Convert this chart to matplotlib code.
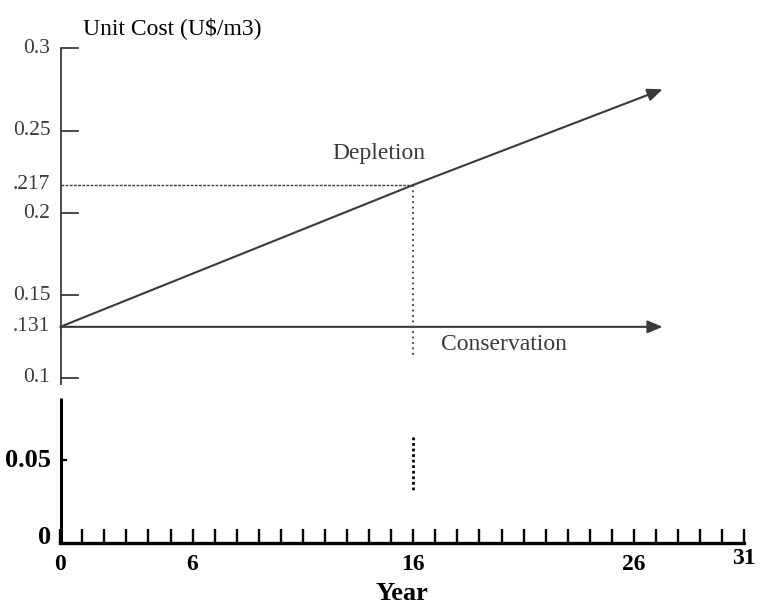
import matplotlib.pyplot as plt

# values
years = [0, 16, 27.3]
depletion = [0.131, 0.217, 0.275]
conservation = [0.131, 0.131, 0.131]
crossover_year = 16
crossover_cost = 0.217
guide_lower = [0.064, 0.032]

xtick_pos = list(range(0, 32))
xtick_labels = ["0", "6", "16", "26", "31"]
ytick_upper = [0.1, 0.131, 0.15, 0.2, 0.217, 0.25, 0.3]
ytick_upper_labels = ["0.1", ".131", "0.15", "0.2", ".217", "0.25", "0.3"]
ytick_lower = [0, 0.05]
ytick_lower_labels = ["0", "0.05"]

plt.rcParams["font.family"] = ["Liberation Serif", "DejaVu Serif"]
INK = "#3a3a3a"

fig = plt.figure(figsize=(7.72, 6.08), dpi=100)
ax = fig.add_axes([0.078, 0.107, 0.886, 0.814])
ax.set_xlim(0, 31)
ax.set_ylim(0, 0.3)

for s in ["top", "right", "left"]:
    ax.spines[s].set_visible(False)
ax.spines["bottom"].set_linewidth(2.4)
ax.spines["bottom"].set_color("black")

# broken left axis
ax.plot([0.05, 0.05], [0.0958, 0.3], color=INK, lw=1.3, clip_on=False, solid_capstyle="butt")
ax.plot([0.05, 0.05], [0.0, 0.088], color="black", lw=2.2, clip_on=False, solid_capstyle="butt")

# x ticks: every year, labels only at a few
ax.set_xticks(xtick_pos)
ax.set_xticklabels([str(x) if str(x) in xtick_labels else "" for x in xtick_pos])
ax.tick_params(axis="x", direction="in", length=10, width=1.7, color="black", pad=8)
for lbl in ax.get_xticklabels():
    lbl.set_fontsize(17)
    lbl.set_fontweight("bold")
    if lbl.get_text() == "31":
        lbl.set_y(0.012)

# y ticks drawn by hand so upper and lower parts can differ
ax.set_yticks([])
for v, t in zip(ytick_upper, ytick_upper_labels):
    ax.text(-0.45, v, t, ha="right", va="center", fontsize=15.5, color=INK)
    if t not in (".131", ".217"):
        ax.plot([0.05, 0.8], [v, v], color=INK, lw=1.3, clip_on=False)
for v, t in zip(ytick_lower, ytick_lower_labels):
    ax.text(-0.4, v + (0.003 if v == 0 else 0), t, ha="right", va="center",
            fontsize=19, fontweight="bold", color="black")
ax.plot([0.05, 0.25], [0.05, 0.05], color="black", lw=1.6)

# guide lines at the crossover
ax.plot([0.05, crossover_year - 0.1], [crossover_cost, crossover_cost],
        color=INK, lw=1.0, ls=(0, (2, 1)))
ax.plot([crossover_year, crossover_year], [crossover_cost, 0.113],
        color=INK, lw=1.3, ls=(0, (1, 2)))
ax.plot([crossover_year, crossover_year], guide_lower,
        color="black", lw=2.0, ls=(0, (1, 1)))

# the two cost paths with arrow heads
arrow = dict(arrowstyle="-|>,head_length=0.9,head_width=0.38", lw=1.5,
             color=INK, shrinkA=0, shrinkB=0)
ax.plot(years[:2], depletion[:2], color=INK, lw=1.5)
ax.annotate("", xy=(years[2], depletion[2]), xytext=(years[1], depletion[1]),
            arrowprops=arrow)
ax.annotate("", xy=(years[2], conservation[2]), xytext=(years[0], conservation[0]),
            arrowprops=arrow)

ax.text(14.45, 0.236, "Depletion", ha="center", va="center", fontsize=17, color=INK)
ax.text(20.1, 0.1205, "Conservation", ha="center", va="center", fontsize=17, color=INK)

fig.text(0.223, 0.954, "Unit Cost (U$/m3)", ha="center", va="center",
         fontsize=17, color="black")
ax.set_xlabel("Year", fontsize=19, fontweight="bold", labelpad=5)

fig.savefig("out.png", dpi=100)
